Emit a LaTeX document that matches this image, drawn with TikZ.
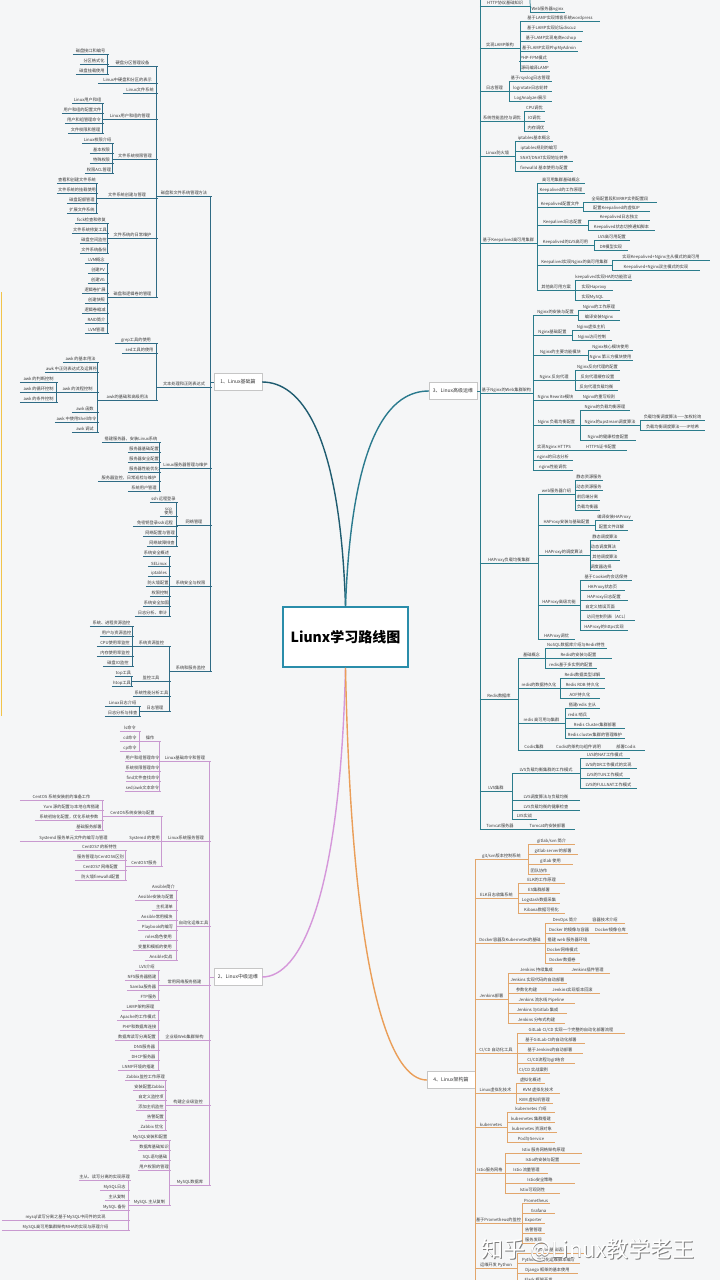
\documentclass[tikz,border=0pt]{standalone}
\usepackage{fontspec}
\newfontfamily\cjk{Noto Sans CJK SC}
\definecolor{bgc}{HTML}{F5F6F7}
\definecolor{c1}{HTML}{2F6B85}
\definecolor{c2}{HTML}{C99AD0}
\definecolor{c3}{HTML}{2B7C8C}
\definecolor{c4}{HTML}{E2A66C}
\definecolor{cv1}{HTML}{1F5C70}
\definecolor{cv2}{HTML}{D597DA}
\definecolor{cv3}{HTML}{2A7A8E}
\definecolor{cv4}{HTML}{EA9E58}
\definecolor{ctrb}{HTML}{2A8DAA}
\definecolor{txt}{HTML}{3A3A3A}
\definecolor{ylw}{HTML}{F2C44A}
\colorlet{lc}{c1}
\tikzset{
  lf/.style={inner sep=0.6pt, anchor=south, align=center, text=txt,
    font=\cjk\fontsize{4.2}{4.6}\selectfont},
  ln/.style={draw=lc, line width=0.75pt},
  pt/.style={inner sep=0pt, minimum size=0pt},
  l1/.style={draw=gray!45, fill=white, text=txt, minimum width=48pt, minimum height=17pt,
    inner sep=1pt, font=\cjk\fontsize{5}{6}\selectfont},
  ctr/.style={draw=ctrb, line width=1.6pt, fill=white, minimum width=125pt, minimum height=60pt,
    font=\cjk\bfseries\fontsize{14}{16}\selectfont},
  cv/.style={line width=1.4pt},
  wm/.style={font=\cjk\fontsize{22}{24}\selectfont}
}
% left-side node: name, parent, x1, x2, y, text
\newcommand\mmL[6]{%
  \node[lf, minimum width={(#4-#3)*1pt}] (#1) at ({(#3+#4)/2},{-(#5+3)}) {#6};
  \draw[ln] (#1.south west) -- (#1.south east);
  \draw[ln] (#2.south west) |- (#1.south east);}
% right-side node
\newcommand\mmR[6]{%
  \node[lf, minimum width={(#4-#3)*1pt}] (#1) at ({(#3+#4)/2},{-(#5+3)}) {#6};
  \draw[ln] (#1.south west) -- (#1.south east);
  \draw[ln] (#2.south east) |- (#1.south west);}
\begin{document}
\begin{tikzpicture}[x=1pt,y=1pt]
\fill[bgc] (0,0) rectangle (720,-1280);
\useasboundingbox (0,0) rectangle (720,-1280);

% centre and main topics
\node[ctr] (C) at (345.5,-637) {Liunx学习路线图};
\node[l1] (B1) at (238,-382) {1、Linux基础篇};
\node[l1] (B2) at (238,-977) {2、Linux中级运维};
\node[l1] (B3) at (453,-391) {3、Linux高级运维};
\node[l1] (B4) at (451,-1080) {4、Linux架构篇};
\draw[cv, draw=cv1] (C.north) .. controls (340,-430) and (300,-382) .. (B1.east);
\draw[cv, draw=cv3] (C.north) .. controls (352,-430) and (392,-391) .. (B3.west);
\draw[cv, draw=cv2] (C.south) .. controls (340,-900) and (300,-977) .. (B2.east);
\draw[cv, draw=cv4] (C.south) .. controls (352,-990) and (392,-1080) .. (B4.west);

% left yellow line
\draw[draw=ylw, line width=1.2pt] (1.5,-292) -- (1.5,-716);

% ================= Branch 1 =================
\colorlet{lc}{c1}
\node[pt] (b1) at (211,-382) {};
\draw[ln] (B1.west) -- (b1);
\mmL{A1}{b1}{157}{211}{193}{磁盘和文件系统管理方法}
\mmL{A1a}{A1}{108}{157}{63}{硬盘分区管理设备}
\mmL{A1a1}{A1a}{73}{108}{51}{磁盘接口和编号}
\mmL{A1a2}{A1a}{80}{108}{61}{分区格式化}
\mmL{A1a3}{A1a}{76}{108}{71}{磁盘挂载使用}
\mmL{A1b}{A1}{98}{157}{80}{Linux中硬盘和分区的表示}
\mmL{A1c}{A1}{123}{157}{90}{Linux文件系统}
\mmL{A1d}{A1}{103}{157}{116}{Linux用户和组的管理}
\mmL{A1d1}{A1d}{72}{103}{100}{Linux用户和组}
\mmL{A1d2}{A1d}{62}{103}{110}{用户和组的配置文件}
\mmL{A1d3}{A1d}{65}{103}{120}{用户和组管理命令}
\mmL{A1d4}{A1d}{68}{103}{130}{文件权限和管理}
\mmL{A1e}{A1}{113}{157}{156}{文件系统权限管理}
\mmL{A1e1}{A1e}{82}{113}{140}{Linux权限介绍}
\mmL{A1e2}{A1e}{90}{113}{150}{基本权限}
\mmL{A1e3}{A1e}{90}{113}{160}{特殊权限}
\mmL{A1e4}{A1e}{85}{113}{170}{权限ACL管理}
\mmL{A1f}{A1}{97}{157}{195}{文件系统创建与管理}
\mmL{A1f1}{A1f}{57}{97}{180}{查看和创建文件系统}
\mmL{A1f2}{A1f}{57}{97}{190}{文件系统的挂载使用}
\mmL{A1f3}{A1f}{67}{97}{200}{磁盘配额管理}
\mmL{A1f4}{A1f}{67}{97}{210}{扩展文件系统}
\mmL{A1g}{A1}{108}{157}{235}{文件系统的日常维护}
\mmL{A1g1}{A1g}{75}{108}{220}{fsck检查和修复}
\mmL{A1g2}{A1g}{72}{108}{230}{文件系统修复工具}
\mmL{A1g3}{A1g}{80}{108}{240}{磁盘空间监控}
\mmL{A1g4}{A1g}{80}{108}{250}{文件系统备份}
\mmL{A1h}{A1}{108}{157}{294}{磁盘和逻辑卷的管理}
\mmL{A1h1}{A1h}{85}{108}{260}{LVM概念}
\mmL{A1h2}{A1h}{88}{108}{270}{创建PV}
\mmL{A1h3}{A1h}{88}{108}{280}{创建VG}
\mmL{A1h4}{A1h}{82}{108}{290}{逻辑卷扩展}
\mmL{A1h5}{A1h}{85}{108}{300}{创建快照}
\mmL{A1h6}{A1h}{82}{108}{310}{逻辑卷缩减}
\mmL{A1h7}{A1h}{85}{108}{320}{RAID简介}
\mmL{A1h8}{A1h}{85}{108}{330}{LVM管理}
\mmL{A2}{b1}{157}{211}{384}{文本处理和正则表达式}
\mmL{A2a}{A2}{115}{157}{340}{grep工具的使用}
\mmL{A2b}{A2}{122}{157}{350}{sed工具的使用}
\mmL{A2c}{A2}{98}{157}{397}{awk的基础和高级用法}
\mmL{A2c1}{A2c}{63}{98}{359}{awk 的基本用法}
\mmL{A2c2}{A2c}{45}{98}{369}{awk 中正则表达式及运算符}
\mmL{A2c3}{A2c}{57}{98}{389}{awk 的流程控制}
\mmL{A2c31}{A2c3}{20}{57}{379}{awk 的判断控制}
\mmL{A2c32}{A2c3}{20}{57}{389}{awk 的循环控制}
\mmL{A2c33}{A2c3}{20}{57}{399}{awk 的条件控制}
\mmL{A2c4}{A2c}{72}{98}{409}{awk 函数}
\mmL{A2c5}{A2c}{55}{98}{419}{awk 中使用Shell命令}
\mmL{A2c6}{A2c}{72}{98}{429}{awk 调试}
\mmL{A3}{b1}{160}{211}{465}{Linux服务器管理与维护}
\mmL{A3a}{A3}{102}{160}{439}{搭建服务器，安装Linux系统}
\mmL{A3b}{A3}{128}{160}{449}{服务器基础配置}
\mmL{A3c}{A3}{128}{160}{459}{服务器安全配置}
\mmL{A3d}{A3}{128}{160}{469}{服务器性能优化}
\mmL{A3e}{A3}{98}{160}{478}{服务器监控，日常巡检与维护}
\mmL{A3f}{A3}{128}{160}{488}{系统用户管理}
\mmL{A4}{b1}{177}{211}{522}{网络管理}
\mmL{A4a}{A4}{150}{177}{499}{ssh 远程登录}
\mmL{A4b}{A4}{160}{177}{513}{scp\\使用}
\mmL{A4c}{A4}{133}{177}{523}{免密钥登录ssh远程}
\mmL{A4d}{A4}{143}{177}{533}{网络配置与管理}
\mmL{A4e}{A4}{147}{177}{543}{网络故障排查}
\mmL{A5}{b1}{170}{211}{583}{系统安全与权限}
\mmL{A5a}{A5}{143}{170}{553}{系统安全概述}
\mmL{A5b}{A5}{148}{170}{563}{SELinux}
\mmL{A5c}{A5}{148}{170}{573}{iptables}
\mmL{A5d}{A5}{146}{170}{583}{防火墙配置}
\mmL{A5e}{A5}{150}{170}{593}{权限控制}
\mmL{A5f}{A5}{143}{170}{603}{系统安全加固}
\mmL{A5g}{A5}{135}{170}{613}{日志分析、审计}
\mmL{A6}{b1}{170}{211}{668}{系统和服务监控}
\mmL{A6a}{A6}{133}{170}{643}{系统资源监控}
\mmL{A6a1}{A6a}{90}{133}{623}{系统、进程资源监控}
\mmL{A6a2}{A6a}{100}{133}{633}{用户与资源监控}
\mmL{A6a3}{A6a}{97}{133}{643}{CPU使用率监控}
\mmL{A6a4}{A6a}{97}{133}{653}{内存使用率监控}
\mmL{A6a5}{A6a}{103}{133}{663}{磁盘IO监控}
\mmL{A6b}{A6}{132}{170}{678}{监控工具}
\mmL{A6b1}{A6b}{115}{132}{673}{top工具}
\mmL{A6b2}{A6b}{112}{132}{683}{htop工具}
\mmL{A6c}{A6}{133}{170}{693}{系统性能分析工具}
\mmL{A6d}{A6}{140}{170}{708}{日志管理}
\mmL{A6d1}{A6d}{105}{140}{703}{Linux日志介绍}
\mmL{A6d2}{A6d}{105}{140}{713}{日志分析与排查}

% ================= Branch 2 =================
\colorlet{lc}{c2}
\node[pt] (b2) at (210,-977) {};
\draw[ln] (B2.west) -- (b2);
\mmL{C1}{b2}{160}{210}{758}{Linux基础命令和管理}
\mmL{C1a}{C1}{140}{160}{738}{操作}
\mmL{C1a1}{C1a}{120}{140}{728}{ls命令}
\mmL{C1a2}{C1a}{120}{140}{738}{cd命令}
\mmL{C1a3}{C1a}{120}{140}{748}{cp命令}
\mmL{C1b}{C1}{125}{160}{758}{用户和组管理命令}
\mmL{C1c}{C1}{125}{160}{768}{系统权限管理命令}
\mmL{C1d}{C1}{126}{160}{778}{find文件查找命令}
\mmL{C1e}{C1}{125}{160}{788}{sed/awk文本命令}
\mmL{C2}{b2}{162}{210}{838}{Linux系统服务管理}
\mmL{C2a}{C2}{103}{162}{813}{CentOS系统安装与配置}
\mmL{C2a1}{C2a}{20}{103}{797}{CentOS 系统安装前的准备工作}
\mmL{C2a2}{C2a}{40}{103}{807}{Yum 源的配置与本地仓库搭建}
\mmL{C2a3}{C2a}{35}{103}{817}{系统初始化配置，优化系统参数}
\mmL{C2a4}{C2a}{75}{103}{827}{基础服务部署}
\mmL{C2b}{C2}{127}{162}{838}{Systemd 的使用}
\mmL{C2b1}{C2b}{20}{127}{838}{Systemd 服务单元文件的编写与管理}
\mmL{C2c}{C2}{126}{162}{863}{CentOS7服务}
\mmL{C2c1}{C2c}{73}{126}{847}{CentOS7 的新特性}
\mmL{C2c2}{C2c}{75}{126}{857}{服务管理与CentOS6区别}
\mmL{C2c3}{C2c}{75}{126}{867}{CentOS7 网络配置}
\mmL{C2c4}{C2c}{75}{126}{877}{防火墙firewalld配置}
\mmL{C3}{b2}{177}{210}{923}{自动化运维工具}
\mmL{C3a}{C3}{150}{177}{887}{Ansible简介}
\mmL{C3b}{C3}{135}{177}{897}{Ansible安装与配置}
\mmL{C3c}{C3}{152}{177}{907}{主机清单}
\mmL{C3d}{C3}{137}{177}{917}{Ansible常用模块}
\mmL{C3e}{C3}{138}{177}{927}{Playbook的编写}
\mmL{C3f}{C3}{140}{177}{937}{roles角色使用}
\mmL{C3g}{C3}{133}{177}{947}{变量和模板的使用}
\mmL{C3h}{C3}{145}{177}{957}{Ansible实战}
\mmL{C4}{b2}{159}{210}{982}{常用网络服务搭建}
\mmL{C4a}{C4}{135}{159}{967}{LVS介绍}
\mmL{C4b}{C4}{125}{159}{977}{NFS服务器搭建}
\mmL{C4c}{C4}{127}{159}{987}{Samba服务器}
\mmL{C4d}{C4}{138}{159}{997}{FTP服务}
\mmL{C5}{b2}{159}{210}{1037}{企业级Web集群架构}
\mmL{C5a}{C5}{122}{159}{1007}{LAMP架构原理}
\mmL{C5b}{C5}{117}{159}{1017}{Apache的工作模式}
\mmL{C5c}{C5}{120}{159}{1027}{PHP和数据库连接}
\mmL{C5d}{C5}{115}{159}{1037}{数据库读写分离配置}
\mmL{C5e}{C5}{130}{159}{1047}{DNS服务器}
\mmL{C5f}{C5}{128}{159}{1057}{DHCP服务器}
\mmL{C5g}{C5}{118}{159}{1067}{LNMP环境的搭建}
\mmL{C6}{b2}{166}{210}{1102}{构建企业级监控}
\mmL{C6a}{C6}{125}{166}{1077}{Zabbix监控工作原理}
\mmL{C6b}{C6}{133}{166}{1087}{安装配置Zabbix}
\mmL{C6c}{C6}{136}{166}{1097}{自定义监控项}
\mmL{C6d}{C6}{136}{166}{1107}{添加主机监控}
\mmL{C6e}{C6}{145}{166}{1117}{告警配置}
\mmL{C6f}{C6}{138}{166}{1127}{Zabbix 优化}
\mmL{C7}{b2}{170}{210}{1182}{MySQL数据库}
\mmL{C7a}{C7}{130}{170}{1137}{MySQL安装和配置}
\mmL{C7b}{C7}{138}{170}{1147}{数据库基础知识}
\mmL{C7c}{C7}{140}{170}{1157}{SQL语句基础}
\mmL{C7d}{C7}{138}{170}{1167}{用户权限的管理}
\mmL{C7e}{C7}{129}{170}{1202}{MySQL 主从复制}
\mmL{C7e1}{C7e}{80}{129}{1177}{主从、读写分离的实现原理}
\mmL{C7e2}{C7e}{100}{129}{1187}{MySQL日志}
\mmL{C7e3}{C7e}{105}{129}{1197}{主从复制}
\mmL{C7e4}{C7e}{100}{129}{1207}{MySQL 备份}
\mmL{C7e5}{C7e}{2}{129}{1217}{mysql读写分离之基于MySQL中间件的实现}
\mmL{C7e6}{C7e}{2}{129}{1227}{MySQL高可用集群架构MHA的实现与原理介绍}

% ================= Branch 3 =================
\colorlet{lc}{c3}
\node[pt] (b3) at (480,-391) {};
\coordinate (top3) at (480,0);
\draw[ln] (B3.east) -- (b3) -- (top3);
\mmR{D0}{b3}{480}{530}{3}{HTTP协议基础知识}
\coordinate (top0) at (530,0);
\draw[ln] (D0.south east) -- (top0);
\mmR{D0a}{D0}{530}{565}{9}{Web服务器nginx}
\mmR{D1}{b3}{480}{520}{45}{实现LAMP架构}
\mmR{D1a}{D1}{520}{600}{18}{基于LAMP实现博客系统wordpress}
\mmR{D1b}{D1}{520}{583}{28}{基于LAMP实现论坛discuz}
\mmR{D1c}{D1}{520}{582}{38}{基于LAMP实现电商ecshop}
\mmR{D1d}{D1}{520}{578}{48}{基于LAMP实现PhpMyAdmin}
\mmR{D1e}{D1}{520}{547}{58}{PHP-FPM模式}
\mmR{D1f}{D1}{520}{550}{68}{源码编译LAMP}
\mmR{D2}{b3}{480}{509}{88}{日志管理}
\mmR{D2a}{D2}{509}{552}{78}{基于rsyslog日志管理}
\mmR{D2b}{D2}{509}{552}{88}{logrotate日志轮转}
\mmR{D2c}{D2}{509}{552}{98}{LogAnalyzer展示}
\mmR{D3}{b3}{480}{524}{118}{系统性能监控与调优}
\mmR{D3a}{D3}{524}{545}{108}{CPU调优}
\mmR{D3b}{D3}{524}{545}{118}{IO调优}
\mmR{D3c}{D3}{524}{548}{128}{内存调优}
\mmR{D4}{b3}{480}{515}{153}{Linux防火墙}
\mmR{D4a}{D4}{515}{553}{138}{iptables基本概念}
\mmR{D4b}{D4}{515}{563}{148}{iptables规则的编写}
\mmR{D4c}{D4}{515}{573}{158}{SNAT/DNAT实现地址转换}
\mmR{D4d}{D4}{515}{573}{168}{firewalld 基本使用与配置}
\mmR{D5}{b3}{480}{537}{240}{基于Keepalived高可用集群}
\mmR{D5a}{D5}{537}{585}{180}{高可用集群基础概念}
\mmR{D5b}{D5}{537}{585}{190}{Keepalived的工作原理}
\mmR{D5c}{D5}{537}{583}{204}{Keepalived配置文件}
\mmR{D5c1}{D5c}{583}{657}{199}{全局配置段和VRRP实例配置段}
\mmR{D5c2}{D5c}{583}{650}{208}{配置Keepalived的虚拟IP}
\mmR{D5d}{D5}{537}{588}{222}{Keepalived日志配置}
\mmR{D5d1}{D5d}{588}{650}{217}{Keepalived日志独立}
\mmR{D5d2}{D5d}{588}{655}{227}{Keepalived状态切换通知脚本}
\mmR{D5e}{D5}{537}{594}{242}{Keepalived的LVS高可用}
\mmR{D5e1}{D5e}{594}{630}{237}{LVS高可用配置}
\mmR{D5e2}{D5e}{594}{628}{247}{DR模型实现}
\mmR{D5f}{D5}{537}{612}{262}{Keepalived实现Nginx的高可用集群}
\mmR{D5f1}{D5f}{612}{710}{257}{实现Keepalived+Nginx主从模式的高可用}
\mmR{D5f2}{D5f}{612}{700}{267}{Keepalived+Nginx双主模式的实现}
\mmR{D5g}{D5}{537}{575}{287}{其他高可用方案}
\mmR{D5g1}{D5g}{575}{632}{277}{keepalived实现HA的功能验证}
\mmR{D5g2}{D5g}{575}{613}{287}{实现Haproxy}
\mmR{D5g3}{D5g}{575}{610}{297}{实现MySQL}
\mmR{D6}{b3}{480}{533}{390}{基于Nginx的Web集群架构}
\mmR{D6a}{D6}{533}{578}{312}{Nginx的安装与配置}
\mmR{D6a1}{D6a}{578}{620}{307}{Nginx的工作原理}
\mmR{D6a2}{D6a}{578}{620}{317}{编译安装Nginx}
\mmR{D6b}{D6}{533}{572}{332}{Nginx基础配置}
\mmR{D6b1}{D6b}{572}{610}{327}{Nginx虚拟主机}
\mmR{D6b2}{D6b}{572}{612}{337}{Nginx访问控制}
\mmR{D6c}{D6}{533}{588}{352}{Nginx的主要功能模块}
\mmR{D6c1}{D6c}{588}{633}{347}{Nginx核心模块使用}
\mmR{D6c2}{D6c}{588}{633}{357}{Nginx 第三方模块使用}
\mmR{D6d}{D6}{533}{575}{377}{Nginx 反向代理}
\mmR{D6d1}{D6d}{575}{620}{367}{Nginx反向代理的配置}
\mmR{D6d2}{D6d}{575}{620}{377}{反向代理缓存设置}
\mmR{D6d3}{D6d}{575}{618}{387}{反向代理负载均衡}
\mmR{D6e}{D6}{533}{578}{397}{Nginx Rewrite模块}
\mmR{D6e1}{D6e}{578}{620}{397}{Nginx的重写规则}
\mmR{D6f}{D6}{533}{580}{422}{Nginx 负载均衡配置}
\mmR{D6f1}{D6f}{580}{630}{407}{Nginx的负载均衡原理}
\mmR{D6f2}{D6f}{580}{640}{422}{Nginx的upstream调度算法}
\mmR{D6f21}{D6f2}{640}{705}{417}{负载均衡调度算法——加权轮询}
\mmR{D6f22}{D6f2}{640}{705}{427}{负载均衡调度算法——IP哈希}
\mmR{D6f3}{D6f}{580}{636}{437}{Nginx的健康检查配置}
\mmR{D6g}{D6}{533}{575}{447}{实现Nginx HTTPS}
\mmR{D6g1}{D6g}{575}{627}{447}{HTTPS证书配置}
\mmR{D6h}{D6}{533}{573}{457}{nginx的日志分析}
\mmR{D6i}{D6}{533}{573}{467}{nginx性能调优}
\mmR{D7}{b3}{480}{538}{560}{HAProxy负载均衡集群}
\mmR{D7a}{D7}{538}{575}{491}{web服务器介绍}
\mmR{D7a1}{D7a}{575}{603}{477}{静态资源服务}
\mmR{D7a2}{D7a}{575}{603}{487}{动态资源服务}
\mmR{D7a3}{D7a}{575}{600}{497}{前后端分离}
\mmR{D7a4}{D7a}{575}{600}{507}{负载均衡器}
\mmR{D7b}{D7}{538}{595}{522}{HAProxy安装与基础配置}
\mmR{D7b1}{D7b}{595}{633}{517}{编译安装HAProxy}
\mmR{D7b2}{D7b}{595}{628}{527}{配置文件详解}
\mmR{D7c}{D7}{538}{590}{552}{HAProxy的调度算法}
\mmR{D7c1}{D7c}{590}{620}{537}{静态调度算法}
\mmR{D7c2}{D7c}{590}{617}{547}{动态调度算法}
\mmR{D7c3}{D7c}{590}{620}{557}{其他调度算法}
\mmR{D7c4}{D7c}{590}{612}{567}{调度器选择}
\mmR{D7d}{D7}{538}{580}{602}{HAProxy高级功能}
\mmR{D7d1}{D7d}{580}{632}{577}{基于Cookie的会话保持}
\mmR{D7d2}{D7d}{580}{625}{587}{HAProxy状态页}
\mmR{D7d3}{D7d}{580}{628}{597}{HAProxy日志配置}
\mmR{D7d4}{D7d}{580}{620}{607}{自定义错误页面}
\mmR{D7d5}{D7d}{580}{635}{617}{访问控制列表（ACL）}
\mmR{D7d6}{D7d}{580}{628}{627}{HAProxy的https实现}
\mmR{D7e}{D7}{538}{575}{636}{HAProxy调优}
\mmR{D8}{b3}{480}{518}{696}{Redis数据库}
\mmR{D8a}{D8}{518}{545}{655}{基础概念}
\mmR{D8a1}{D8a}{545}{607}{645}{NoSQL数据库介绍与Redis特性}
\mmR{D8a2}{D8a}{545}{612}{655}{Redis的安装与配置}
\mmR{D8a3}{D8a}{545}{597}{665}{redis基于多实例的配置}
\mmR{D8b}{D8}{518}{560}{685}{redis的数据持久化}
\mmR{D8b1}{D8b}{560}{605}{675}{Redis数据类型详解}
\mmR{D8b2}{D8b}{560}{605}{685}{Redis RDB 持久化}
\mmR{D8b3}{D8b}{560}{600}{695}{AOF持久化}
\mmR{D8c}{D8}{518}{565}{720}{redis 高可用与集群}
\mmR{D8c1}{D8c}{565}{600}{705}{搭建redis 主从}
\mmR{D8c2}{D8c}{565}{590}{715}{redis 哨兵}
\mmR{D8c3}{D8c}{565}{625}{725}{Redis Cluster集群部署}
\mmR{D8c4}{D8c}{565}{625}{735}{Redis cluster集群的管理维护}
\mmR{D8d}{D8}{518}{550}{747}{Codis集群}
\mmR{D8d1}{D8d}{550}{607}{747}{Codis的架构与组件说明}
\mmR{D8d2}{D8d1}{607}{645}{747}{部署Codis}
\mmR{D9}{b3}{480}{512}{788}{LVS集群}
\mmR{D9a}{D9}{512}{580}{770}{LVS负载均衡集群的工作模式}
\mmR{D9a1}{D9a}{580}{630}{755}{LVS的NAT工作模式}
\mmR{D9a2}{D9a}{580}{637}{765}{LVS的DR工作模式的实现}
\mmR{D9a3}{D9a}{580}{630}{775}{LVS的TUN工作模式}
\mmR{D9a4}{D9a}{580}{637}{785}{LVS的FULLNAT工作模式}
\mmR{D9b}{D9}{512}{580}{797}{LVS调度算法与负载均衡}
\mmR{D9c}{D9}{512}{580}{807}{LVS负载均衡的健康检查}
\mmR{D9d}{D9}{512}{537}{816}{LVS实战}
\mmR{D10}{b3}{480}{520}{826}{Tomcat服务器}
\mmR{D10a}{D10}{520}{575}{826}{Tomcat的安装部署}

% ================= Branch 4 =================
\colorlet{lc}{c4}
\node[pt] (b4) at (475,-1080) {};
\coordinate (bot4) at (475,-1290);
\draw[ln] (B4.east) -- (b4) -- (bot4);
\mmR{E1}{b4}{475}{528}{856}{git/svn版本控制系统}
\mmR{E1a}{E1}{528}{575}{841}{gitlab/svn 简介}
\mmR{E1b}{E1}{528}{578}{851}{gitlab server的部署}
\mmR{E1c}{E1}{528}{573}{861}{gitlab 使用}
\mmR{E1d}{E1}{528}{550}{871}{团队协作}
\mmR{E2}{b4}{475}{518}{895}{ELK日志收集系统}
\mmR{E2a}{E2}{518}{565}{880}{ELK的工作原理}
\mmR{E2b}{E2}{518}{560}{890}{ES集群部署}
\mmR{E2c}{E2}{518}{560}{900}{Logstash数据采集}
\mmR{E2d}{E2}{518}{565}{910}{Kibana数据可视化}
\mmR{E3}{b4}{475}{545}{940}{Docker容器及Kubernetes的基础}
\mmR{E3a}{E3}{545}{585}{920}{DevOps 简介}
\mmR{E3a1}{E3a}{585}{625}{920}{容器技术介绍}
\mmR{E3b}{E3}{545}{593}{930}{Docker 的镜像与容器}
\mmR{E3b1}{E3b}{593}{628}{930}{Docker镜像仓库}
\mmR{E3c}{E3}{545}{590}{940}{搭建 web 服务器环境}
\mmR{E3d}{E3}{545}{580}{950}{Docker网络模式}
\mmR{E3e}{E3}{545}{580}{960}{Docker数据卷}
\mmR{E4}{b4}{475}{508}{996}{Jenkins部署}
\mmR{E4a}{E4}{508}{565}{970}{Jenkins 持续集成}
\mmR{E4a1}{E4a}{565}{610}{970}{Jenkins插件管理}
\mmR{E4b}{E4}{508}{567}{980}{Jenkins 实现代码的自动部署}
\mmR{E4c}{E4}{508}{545}{990}{参数化构建}
\mmR{E4c1}{E4c}{545}{600}{990}{Jenkins实现版本回滚}
\mmR{E4d}{E4}{508}{575}{1000}{Jenkins 流水线 Pipeline}
\mmR{E4e}{E4}{508}{567}{1010}{Jenkins 与Gitlab 集成}
\mmR{E4f}{E4}{508}{565}{1020}{Jenkins 分布式构建}
\mmR{E5}{b4}{475}{517}{1050}{CI/CD 自动化工具}
\mmR{E5a}{E5}{517}{625}{1030}{GitLab CI/CD 实现一个完整的自动化部署流程}
\mmR{E5b}{E5}{517}{585}{1040}{基于GitLab CI的自动化部署}
\mmR{E5c}{E5}{517}{583}{1050}{基于Jenkins的自动部署}
\mmR{E5d}{E5}{517}{575}{1060}{CI/CD流程与git结合}
\mmR{E5e}{E5}{517}{550}{1070}{CI/CD 实战案例}
\mmR{E6}{b4}{475}{516}{1090}{Linux虚拟化技术}
\mmR{E6a}{E6}{516}{545}{1080}{虚拟化概述}
\mmR{E6b}{E6}{516}{560}{1090}{KVM 虚拟化技术}
\mmR{E6c}{E6}{516}{553}{1100}{KVM 虚拟机管理}
\mmR{E7}{b4}{475}{507}{1124}{kubernetes}
\mmR{E7a}{E7}{507}{555}{1109}{kubernetes 介绍}
\mmR{E7b}{E7}{507}{555}{1119}{kubernetes 集群搭建}
\mmR{E7c}{E7}{507}{557}{1129}{kubernetes 资源对象}
\mmR{E7d}{E7}{507}{555}{1139}{Pod与Service}
\mmR{E8}{b4}{475}{505}{1170}{Istio服务网格}
\mmR{E8a}{E8}{505}{582}{1150}{Istio 服务网格架构原理}
\mmR{E8b}{E8}{505}{580}{1160}{Istio的安装与配置}
\mmR{E8c}{E8}{505}{548}{1170}{Istio 流量管理}
\mmR{E8d}{E8}{505}{575}{1180}{Istio安全策略}
\mmR{E8e}{E8}{505}{560}{1190}{Istio可观测性}
\mmR{E9}{b4}{475}{522}{1220}{基于Prometheus的监控}
\mmR{E9a}{E9}{522}{550}{1200}{Prometheus}
\mmR{E9b}{E9}{522}{555}{1210}{Grafana}
\mmR{E9c}{E9}{522}{545}{1220}{Exporter}
\mmR{E9d}{E9}{522}{545}{1230}{告警管理}
\mmR{E9e}{E9}{522}{545}{1240}{服务发现}
\mmR{E10}{b4}{475}{517}{1265}{运维开发 Python}
\mmR{E10a}{E10}{517}{585}{1250}{Python基础语法}
\mmR{E10b}{E10}{517}{580}{1260}{Python 自动化运维脚本编写}
\mmR{E10c}{E10}{517}{578}{1270}{Django 框架的基本使用}
\mmR{E10d}{E10}{517}{560}{1280}{Flask 框架开发}

% watermark (white text with grey shadow)
\node[wm, text=black!50] (WMs) at (588.8,-1250.8) {知乎 @Linux教学老王};
\node[wm, text=white] (WM) at (588,-1250) {知乎 @Linux教学老王};
\end{tikzpicture}
\end{document}
